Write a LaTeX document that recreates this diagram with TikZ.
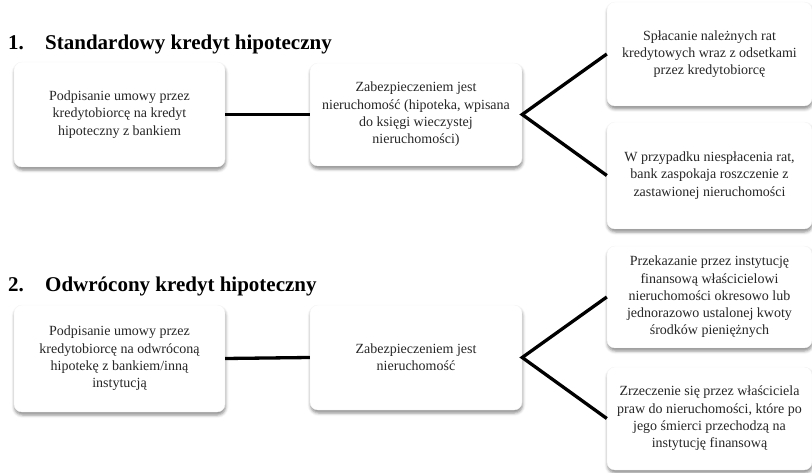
\documentclass[tikz,border=0pt]{standalone}
\usepackage{fontspec}
\setmainfont{Liberation Serif}
\usetikzlibrary{shadows.blur}

\tikzset{
  infobox/.style={
    draw=black!4, fill=white, rounded corners=8pt,
    align=center, inner sep=4pt, text=black!85,
    font=\fontsize{14}{17.3}\selectfont,
    blur shadow={shadow xshift=0.5pt, shadow yshift=-3pt,
                 shadow blur radius=3pt, shadow opacity=45}
  },
  heading/.style={anchor=base west, inner sep=0pt,
    font=\fontsize{21}{24}\selectfont\bfseries},
  link/.style={line width=3.3pt, black}
}

\begin{document}
\begin{tikzpicture}[x=1pt, y=-1pt]
  \useasboundingbox (0,0) rectangle (812,473);

  % ---- section 1 ----
  \node[heading] (n1) at (8,50) {1.};
  \node[heading] (t1) at (45,50) {Standardowy kredyt hipoteczny};

  \node[infobox, minimum width=211pt, minimum height=105pt] (a1) at (119.5,114.5)
    {Podpisanie umowy przez\\kredytobiorcę na kredyt\\hipoteczny z bankiem};
  \node[infobox, minimum width=212pt, minimum height=103pt] (b1) at (416,114.5)
    {Zabezpieczeniem jest\\nieruchomość (hipoteka, wpisana\\do księgi wieczystej\\nieruchomości)};
  \node[infobox, minimum width=205pt, minimum height=104pt] (c1) at (709.5,54)
    {Spłacanie należnych rat\\kredytowych wraz z odsetkami\\przez kredytobiorcę};
  \node[infobox, minimum width=205pt, minimum height=107pt] (c2) at (709.5,175.5)
    {W przypadku niespłacenia rat,\\bank zaspokaja roszczenie z\\zastawionej nieruchomości};

  \draw[link] (a1.east) -- (b1.west);
  \draw[link, line join=miter] (c1.west) -- (b1.east) -- (c2.west);

  % ---- section 2 ----
  \node[heading] (n2) at (8,292) {2.};
  \node[heading] (t2) at (45,292) {Odwrócony kredyt hipoteczny};

  \node[infobox, minimum width=211pt, minimum height=107pt] (a2) at (119.5,358.5)
    {Podpisanie umowy przez\\kredytobiorcę na odwróconą\\hipotekę z bankiem/inną\\instytucją};
  \node[infobox, minimum width=212pt, minimum height=105pt] (b2) at (416,357.5)
    {Zabezpieczeniem jest\\nieruchomość};
  \node[infobox, minimum width=205pt, minimum height=102pt] (c3) at (709.5,297)
    {Przekazanie przez instytucję\\finansową właścicielowi\\nieruchomości okresowo lub\\jednorazowo ustalonej kwoty\\środków pieniężnych};
  \node[infobox, minimum width=205pt, minimum height=103pt] (c4) at (709.5,418.5)
    {Zrzeczenie się przez właściciela\\praw do nieruchomości, które po\\jego śmierci przechodzą na\\instytucję finansową};

  \draw[link] (a2.east) -- (b2.west);
  \draw[link, line join=miter] (c3.west) -- (b2.east) -- (c4.west);
\end{tikzpicture}
\end{document}
